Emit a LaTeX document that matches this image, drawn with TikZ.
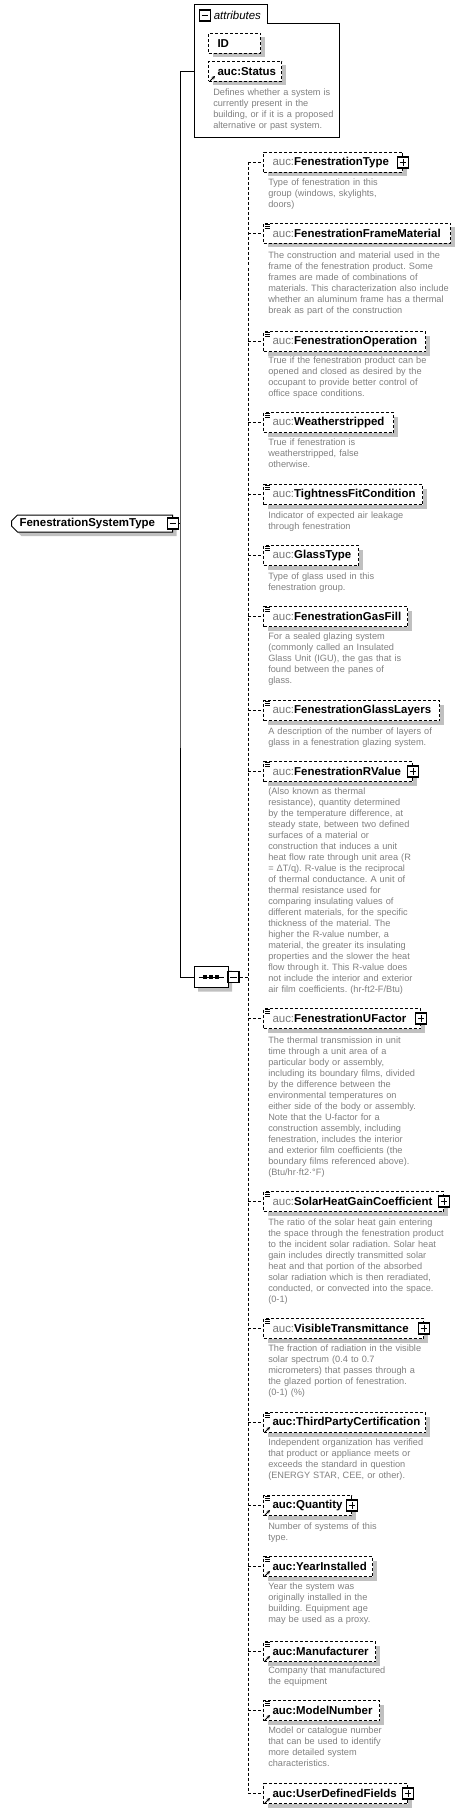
\documentclass[tikz,border=0pt]{standalone}
\usepackage{fontspec}
\setmainfont{Liberation Sans}
\usetikzlibrary{arrows.meta,shadows,shapes.misc}
\hyphenpenalty=10000
\exhyphenpenalty=10000
\frenchspacing

\definecolor{desctext}{RGB}{128,128,128}
\definecolor{nsgray}{RGB}{120,120,120}
\definecolor{shadowgray}{RGB}{192,192,192}

\newcommand{\aucns}{{\color{nsgray}\mdseries auc:}}
\newcommand{\txticon}[1]{\foreach \k in {0.75,2.25,3.75}{\draw[solid,line width=0.5pt] ([xshift=1.5pt,yshift=-\k pt]#1.north west) -- ++(5,0);}}
\newcommand{\reficon}[1]{\draw[solid,line width=0.75pt,-{Stealth[length=2.5pt,width=2.5pt]}] ([xshift=1.5pt,yshift=0.75pt]#1.south west) -- ++(5,-5);}

\tikzset{
  elem/.style={draw, dash pattern=on 2.25pt off 1.5pt, line width=0.75pt, fill=white, anchor=north west,
    minimum height=15pt, inner xsep=6.75pt, inner ysep=0pt, text width=#1, align=left,
    font=\fontsize{8.6}{10}\selectfont\bfseries,
    drop shadow={shadow xshift=3pt, shadow yshift=-3pt, fill=shadowgray, opacity=1}},
  desc/.style={anchor=base west, inner sep=0pt, text width=200pt, align=left, text=desctext,
    font=\fontsize{6.9}{8.25}\selectfont},
  sign/.style={draw, solid, line width=0.8pt, fill=white, minimum size=8.25pt, inner sep=0pt},
  plus/.style={sign, path picture={\draw[line width=0.75pt]
    ([xshift=1.6pt]path picture bounding box.west) -- ([xshift=-1.6pt]path picture bounding box.east)
    ([yshift=-1.6pt]path picture bounding box.north) -- ([yshift=1.6pt]path picture bounding box.south);}},
  minus/.style={sign, path picture={\draw[line width=0.75pt]
    ([xshift=1.6pt]path picture bounding box.west) -- ([xshift=-1.6pt]path picture bounding box.east);}},
  link/.style={dash pattern=on 2.25pt off 1.5pt, line width=0.75pt},
  wire/.style={line width=0.75pt},
}

\begin{document}
\begin{tikzpicture}[x=0.75pt,y=-0.75pt]
\useasboundingbox (0,0) rectangle (464,1812);

% root type
\node[draw, chamfered rectangle, chamfered rectangle corners={north west,south west},
  chamfered rectangle xsep=2.25pt, chamfered rectangle ysep=2.25pt, line width=0.75pt, fill=white, anchor=west,
  minimum height=12.75pt, inner xsep=3.75pt, inner ysep=0pt, text width=108.75pt, align=left,
  font=\fontsize{8.6}{10}\selectfont\bfseries,
  drop shadow={shadow xshift=3pt, shadow yshift=-3pt, fill=shadowgray, opacity=1}]
  (fst) at (11,523.5) {FenestrationSystemType};
\node[minus] (fst-sign) at (fst.east) {};
\coordinate (fork) at (180,523.5);

% attributes group
\draw[wire] (194,138) -- (194,5) -- (267,5) -- (267,24) -- (339,24) -- (339,138) -- cycle;
\coordinate (attr-in) at (194,72);
\node[minus] (attr-sign) at (205,15.5) {};
\node[anchor=west, inner sep=0pt, font=\fontsize{8.6}{10}\selectfont\itshape] (attr-title) at (213.5,15.5) {attributes};
\node[elem=25.5pt] (id) at (208,33) {ID};
\node[elem=41.25pt] (status) at (208,61) {auc:Status};
\reficon{status}
\node[desc] (status-d) at (213,95.5) {Defines whether a system is\\currently present in the\\building, or if it is a proposed\\alternative or past system.};

% sequence
\node[draw, chamfered rectangle, chamfered rectangle xsep=3pt, chamfered rectangle ysep=3pt, line width=0.75pt, fill=white,
  minimum width=25.5pt, minimum height=15.75pt, inner sep=0pt,
  drop shadow={shadow xshift=3pt, shadow yshift=-3pt, fill=shadowgray, opacity=1}]
  (seq) at (211,977) {};
\draw[wire] ([xshift=3.75pt]seq.west) -- ([xshift=-3.75pt]seq.east);
\foreach \dx in {-6,0,6}{\fill ([xshift=\dx*0.75pt]seq.center) ++(-1.75,-1.75) rectangle ++(3.5,3.5);}
\node[minus] (seq-sign) at (233.5,977) {};
\coordinate (spine) at (248,977);

% children
\node[elem=90.75pt] (ftype) at (263,152) {\aucns FenestrationType};
\node[plus] (ftype-sign) at (ftype.east) {};
\node[desc] (ftype-d) at (268,185.5) {Type of fenestration in this\\group (windows, skylights,\\doors)};

\node[elem=126.75pt] (fmat) at (263,223) {\aucns FenestrationFrameMaterial};
\txticon{fmat}
\node[desc] (fmat-d) at (268,258.5) {The construction and material used in the\\frame of the fenestration product. Some\\frames are made of combinations of\\materials. This characterization also include\\whether an aluminum frame has a thermal\\break as part of the construction};

\node[elem=108pt] (fop) at (263,331) {\aucns FenestrationOperation};
\txticon{fop}
\node[desc] (fop-d) at (268,363) {True if the fenestration product can be\\opened and closed as desired by the\\occupant to provide better control of\\office space conditions.};

\node[elem=84pt] (weather) at (263,412) {\aucns Weatherstripped};
\txticon{weather}
\node[desc] (weather-d) at (268,445.5) {True if fenestration is\\weatherstripped, false\\otherwise.};

\node[elem=105.75pt] (tight) at (263,484) {\aucns TightnessFitCondition};
\txticon{tight}
\node[desc] (tight-d) at (268,518.5) {Indicator of expected air leakage\\through fenestration};

\node[elem=57.75pt] (glass) at (263,545) {\aucns GlassType};
\txticon{glass}
\node[desc] (glass-d) at (268,579.5) {Type of glass used in this\\fenestration group.};

\node[elem=94.5pt] (gasfill) at (263,606) {\aucns FenestrationGasFill};
\txticon{gasfill}
\node[desc] (gasfill-d) at (268,639.5) {For a sealed glazing system\\(commonly called an Insulated\\Glass Unit (IGU), the gas that is\\found between the panes of\\glass.};

\node[elem=118.5pt] (layers) at (263,700) {\aucns FenestrationGlassLayers};
\txticon{layers}
\node[desc] (layers-d) at (268,734.5) {A description of the number of layers of\\glass in a fenestration glazing system.};

\node[elem=98.25pt] (rvalue) at (263,761) {\aucns FenestrationRValue};
\txticon{rvalue}
\node[plus] (rvalue-sign) at (rvalue.east) {};
\node[desc] (rvalue-d) at (268,794.5) {(Also known as thermal\\resistance), quantity determined\\by the temperature difference, at\\steady state, between two defined\\surfaces of a material or\\construction that induces a unit\\heat flow rate through unit area (R\\= ΔT/q). R-value is the reciprocal\\of thermal conductance. A unit of\\thermal resistance used for\\comparing insulating values of\\different materials, for the specific\\thickness of the material. The\\higher the R-value number, a\\material, the greater its insulating\\properties and the slower the heat\\flow through it. This R-value does\\not include the interior and exterior\\air film coefficients. (hr-ft2-F/Btu)};

\node[elem=104.25pt] (ufactor) at (263,1008) {\aucns FenestrationUFactor};
\txticon{ufactor}
\node[plus] (ufactor-sign) at (ufactor.east) {};
\node[desc] (ufactor-d) at (268,1043.5) {The thermal transmission in unit\\time through a unit area of a\\particular body or assembly,\\including its boundary films, divided\\by the difference between the\\environmental temperatures on\\either side of the body or assembly.\\Note that the U-factor for a\\construction assembly, including\\fenestration, includes the interior\\and exterior film coefficients (the\\boundary films referenced above).\\(Btu/hr·ft2·°F)};

\node[elem=121.5pt] (shgc) at (263,1191) {\aucns SolarHeatGainCoefficient};
\txticon{shgc}
\node[plus] (shgc-sign) at (shgc.east) {};
\node[desc] (shgc-d) at (268,1225.5) {The ratio of the solar heat gain entering\\the space through the fenestration product\\to the incident solar radiation. Solar heat\\gain includes directly transmitted solar\\heat and that portion of the absorbed\\solar radiation which is then reradiated,\\conducted, or convected into the space.\\(0-1)};

\node[elem=106.5pt] (vt) at (263,1318) {\aucns VisibleTransmittance};
\txticon{vt}
\node[plus] (vt-sign) at (vt.east) {};
\node[desc] (vt-d) at (268,1351.5) {The fraction of radiation in the visible\\solar spectrum (0.4 to 0.7\\micrometers) that passes through a\\the glazed portion of fenestration.\\(0-1) (\%)};

\node[elem=108pt] (cert) at (263,1412) {auc:ThirdPartyCertification};
\txticon{cert}
\reficon{cert}
\node[desc] (cert-d) at (268,1445.5) {Independent organization has verified\\that product or appliance meets or\\exceeds the standard in question\\(ENERGY STAR, CEE, or other).};

\node[elem=52.5pt] (qty) at (263,1495) {auc:Quantity};
\txticon{qty}
\reficon{qty}
\node[plus] (qty-sign) at (qty.east) {};
\node[desc] (qty-d) at (268,1529.5) {Number of systems of this\\type.};

\node[elem=68.25pt] (year) at (263,1556) {auc:YearInstalled};
\txticon{year}
\reficon{year}
\node[desc] (year-d) at (268,1589.5) {Year the system was\\originally installed in the\\building. Equipment age\\may be used as a proxy.};

\node[elem=70.5pt] (manuf) at (263,1641) {auc:Manufacturer};
\txticon{manuf}
\reficon{manuf}
\node[desc] (manuf-d) at (268,1673.5) {Company that manufactured\\the equipment};

\node[elem=73.5pt] (model) at (263,1700) {auc:ModelNumber};
\txticon{model}
\reficon{model}
\node[desc] (model-d) at (268,1733.5) {Model or catalogue number\\that can be used to identify\\more detailed system\\characteristics.};

\node[elem=94.5pt] (udf) at (263,1783) {auc:UserDefinedFields};
\reficon{udf}
\node[plus] (udf-sign) at (udf.east) {};

% connectors
\draw[wire] (fst-sign.east) -- (fork);
\draw[wire] (attr-in) -| (fork) |- (seq.west);
\draw[link] (seq-sign.east) -- (spine);
\draw[link] (spine |- ftype.west) -- (spine |- udf.west);
\foreach \c in {ftype,fmat,fop,weather,tight,glass,gasfill,layers,rvalue,ufactor,shgc,vt,cert,qty,year,manuf,model,udf}{
  \draw[link] (spine |- \c.west) -- (\c.west);
}
\end{tikzpicture}
\end{document}
